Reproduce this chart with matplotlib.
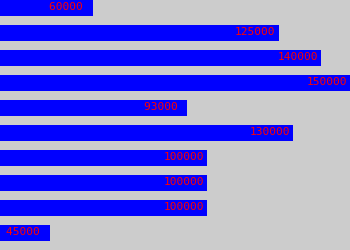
import matplotlib
matplotlib.use("Agg")
import matplotlib.pyplot as plt

categories = ["A", "B", "C", "D", "E", "F", "G", "H", "I", "J"]
values = [60000, 125000, 140000, 150000, 93000, 130000, 100000, 100000, 100000, 45000]

fig = plt.figure(figsize=(3.5, 2.5), dpi=100)
fig.patch.set_facecolor("#cccccc")
ax = fig.add_axes([0, 0, 1, 1])
ax.set_facecolor("#cccccc")

pos = list(range(len(categories)))
ax.barh(pos, values, height=0.64, color="#0000ff")
ax.set_xlim(27500, 150000)
ax.set_ylim(9.69, -0.31)
ax.axis("off")

for p, v in zip(pos, values):
    label = f"{v:<6d}"
    ax.annotate(label, xy=(v, p), xytext=(-3, 0.5), textcoords="offset pixels",
                ha="right", va="center", color="#ff0000",
                fontsize=8.0, family="DejaVu Sans Mono")

fig.savefig("out.png", dpi=100, facecolor="#cccccc")
